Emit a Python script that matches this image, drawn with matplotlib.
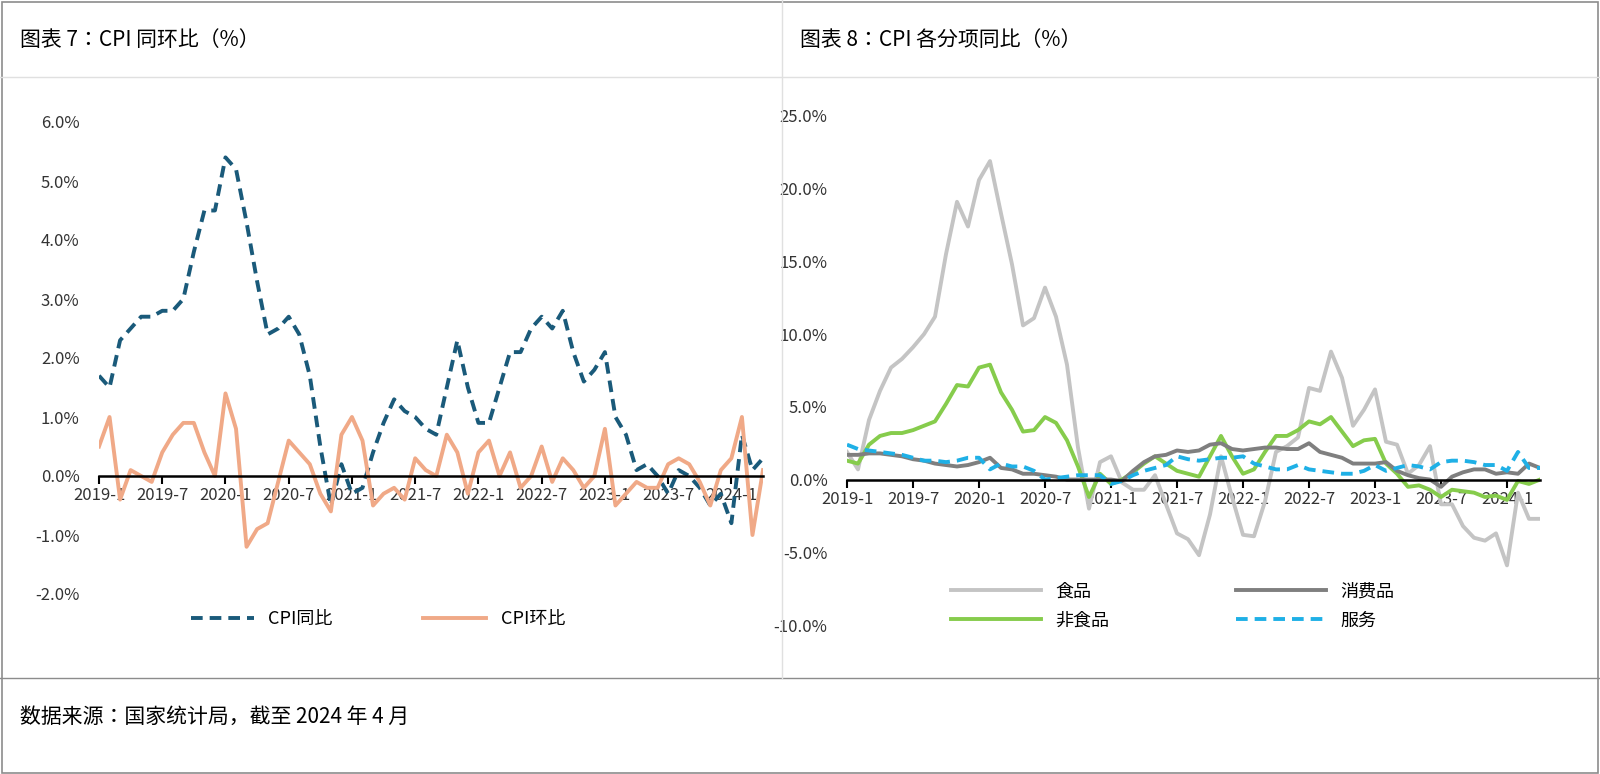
import matplotlib
matplotlib.use("Agg")
import matplotlib.pyplot as plt
from matplotlib.lines import Line2D
from matplotlib.patches import Rectangle
from matplotlib import font_manager as fm

cjk = [f.name for f in fm.fontManager.ttflist if 'CJK' in f.name]
fams = [n for n in ['Noto Sans CJK SC', 'Noto Sans CJK JP', 'Noto Sans CJK TC', 'Noto Sans CJK KR'] if n in cjk]
plt.rcParams['font.family'] = fams + ['Noto Sans']

months = [f"{y}-{m}" for y in range(2019, 2025) for m in range(1, 13)][:64]
tick_labels = ["2019-1", "2019-7", "2020-1", "2020-7", "2021-1", "2021-7",
               "2022-1", "2022-7", "2023-1", "2023-7", "2024-1"]

cpi_yoy = [1.7,1.5,2.3,2.5,2.7,2.7,2.8,2.8,3.0,3.8,4.5,4.5,
           5.4,5.2,4.3,3.3,2.4,2.5,2.7,2.4,1.7,0.5,-0.5,0.2,
           -0.3,-0.2,0.4,0.9,1.3,1.1,1.0,0.8,0.7,1.5,2.3,1.5,
           0.9,0.9,1.5,2.1,2.1,2.5,2.7,2.5,2.8,2.1,1.6,1.8,
           2.1,1.0,0.7,0.1,0.2,0.0,-0.3,0.1,0.0,-0.2,-0.5,-0.3,
           -0.8,0.7,0.1,0.3]
cpi_mom = [0.5,1.0,-0.4,0.1,0.0,-0.1,0.4,0.7,0.9,0.9,0.4,0.0,
           1.4,0.8,-1.2,-0.9,-0.8,-0.1,0.6,0.4,0.2,-0.3,-0.6,0.7,
           1.0,0.6,-0.5,-0.3,-0.2,-0.4,0.3,0.1,0.0,0.7,0.4,-0.3,
           0.4,0.6,0.0,0.4,-0.2,0.0,0.5,-0.1,0.3,0.1,-0.2,0.0,
           0.8,-0.5,-0.3,-0.1,-0.2,-0.2,0.2,0.3,0.2,-0.1,-0.5,0.1,
           0.3,1.0,-1.0,0.1]

food = [1.9,0.7,4.1,6.1,7.7,8.3,9.1,10.0,11.2,15.5,19.1,17.4,
        20.6,21.9,18.3,14.8,10.6,11.1,13.2,11.2,7.9,2.2,-2.0,1.2,
        1.6,-0.2,-0.7,-0.7,0.3,-1.7,-3.7,-4.1,-5.2,-2.4,1.6,-1.2,
        -3.8,-3.9,-1.5,1.9,2.3,2.9,6.3,6.1,8.8,7.0,3.7,4.8,
        6.2,2.6,2.4,0.4,1.0,2.3,-1.7,-1.7,-3.2,-4.0,-4.2,-3.7,
        -5.9,-0.9,-2.7,-2.7]
consumer = [1.7,1.7,1.8,1.8,1.7,1.6,1.4,1.3,1.1,1.0,0.9,1.0,
            1.2,1.5,0.8,0.7,0.4,0.4,0.3,0.2,0.0,0.0,0.0,0.0,
            0.0,-0.1,0.6,1.2,1.6,1.7,2.0,1.9,2.0,2.4,2.5,2.1,
            2.0,2.1,2.2,2.2,2.1,2.1,2.5,1.9,1.7,1.5,1.1,1.1,
            1.1,1.2,0.6,0.3,0.1,0.0,-0.5,0.2,0.5,0.7,0.7,0.4,
            0.5,0.4,1.1,0.8]
nonfood = [1.3,1.1,2.4,3.0,3.2,3.2,3.4,3.7,4.0,5.2,6.5,6.4,
           7.7,7.9,6.0,4.8,3.3,3.4,4.3,3.9,2.7,0.9,-1.2,0.4,
           -0.3,0.0,0.5,1.1,1.6,1.1,0.6,0.4,0.2,1.6,3.0,1.6,
           0.4,0.7,1.9,3.0,3.0,3.4,4.0,3.8,4.3,3.3,2.3,2.7,
           2.8,1.1,0.4,-0.5,-0.4,-0.7,-1.2,-0.7,-0.8,-0.9,-1.2,-1.1,
           -1.4,-0.1,-0.3,0.0]
services = [2.4,2.1,2.0,1.9,1.8,1.7,1.5,1.3,1.3,1.2,1.3,1.5,
            1.5,0.7,1.1,0.9,0.9,0.6,0.0,0.1,0.2,0.3,0.3,0.3,
            -0.3,-0.1,0.3,0.6,0.8,1.0,1.6,1.4,1.3,1.4,1.5,1.5,
            1.6,1.1,0.9,0.7,0.7,1.0,0.7,0.6,0.5,0.4,0.4,0.6,
            1.0,0.6,0.8,1.0,0.9,0.7,1.2,1.3,1.3,1.2,1.0,1.0,
            0.6,1.9,0.8,0.8]

fig = plt.figure(figsize=(16, 7.74), dpi=100)
fig.add_artist(Rectangle((0.001, 0.001), 0.998, 0.997, transform=fig.transFigure,
                         fill=False, ec='#8c8c8c', lw=1.2))
fig.add_artist(Line2D([0, 1], [1 - 77/774]*2, color='#e0e0e0', lw=1))
fig.add_artist(Line2D([0, 1], [1 - 678/774]*2, color='#8c8c8c', lw=1))
fig.add_artist(Line2D([782/1600]*2, [1 - 678/774, 1], color='#e0e0e0', lw=1))
fig.text(20/1600, 1 - 40/774, "图表 7：CPI 同环比（%）", fontsize=15, va='center')
fig.text(800/1600, 1 - 40/774, "图表 8：CPI 各分项同比（%）", fontsize=15, va='center')
fig.text(20/1600, 1 - 717/774, "数据来源：国家统计局，截至 2024 年 4 月", fontsize=15, va='center')

x = list(range(len(months)))
tick_pos = [months.index(t) for t in tick_labels]

def style(ax, ylim, yticks):
    ax.set_xlim(0, 63)
    ax.set_ylim(*ylim)
    for s in ['top', 'right', 'left']:
        ax.spines[s].set_visible(False)
    ax.spines['bottom'].set_position(('data', 0))
    ax.spines['bottom'].set_linewidth(1.8)
    ax.set_xticks(tick_pos)
    ax.set_xticklabels(tick_labels, fontsize=12, color='#333333')
    ax.tick_params(axis='x', length=6, width=1.5, pad=2)
    ax.set_yticks(yticks)
    ax.set_yticklabels([f"{v:.1f}%" for v in yticks], fontsize=12, color='#333333')
    ax.tick_params(axis='y', length=0, pad=14)

ax1 = fig.add_axes([99/1600, 1 - 594/774, 664/1600, 472/774])
ax1.plot(x, cpi_yoy, color='#1a5a7a', lw=2.8, ls=(0, (3, 1.8)), label='CPI同比')
ax1.plot(x, cpi_mom, color='#f0a987', lw=2.8, label='CPI环比')
style(ax1, (-2, 6), [-2, -1, 0, 1, 2, 3, 4, 5, 6])
ax1.legend(loc='upper center', bbox_to_anchor=(0.42, 0.0), ncol=2, frameon=False,
           fontsize=13, handlelength=3.5, columnspacing=5)

ax2 = fig.add_axes([847/1600, 1 - 625/774, 693/1600, 509/774])
ax2.plot(x, food, color='#c4c4c4', lw=2.8, label='食品')
ax2.plot(x, nonfood, color='#86cc4c', lw=2.8, label='非食品')
ax2.plot(x, consumer, color='#7f7f7f', lw=2.8, label='消费品')
ax2.plot(x, services, color='#1fb0e6', lw=2.8, ls=(0, (3, 1.8)), label='服务')
style(ax2, (-10, 25), [-10, -5, 0, 5, 10, 15, 20, 25])
ax2.legend(loc='upper center', bbox_to_anchor=(0.47, 0.115), ncol=2, frameon=False,
           fontsize=13, handlelength=5, columnspacing=7, labelspacing=0.6)

fig.savefig("out.png", dpi=100)
